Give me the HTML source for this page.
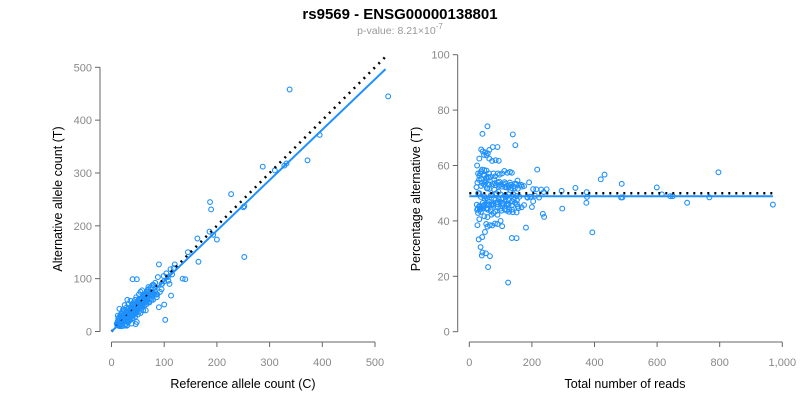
<!DOCTYPE html>
<html><head><meta charset="utf-8"><style>
body{margin:0;background:#fff;width:800px;height:400px;overflow:hidden;font-family:"Liberation Sans",sans-serif}
</style></head><body>
<svg id="chart" width="800" height="400" xmlns="http://www.w3.org/2000/svg" font-family="Liberation Sans, sans-serif">
<text x="400" y="19" text-anchor="middle" font-size="15" font-weight="bold" fill="#000">rs9569 - ENSG00000138801</text>
<text x="400" y="34" text-anchor="middle" font-size="10.5" fill="#999">p-value: 8.21×10<tspan dy="-5" font-size="8">-7</tspan></text>
<g id="left"></g>
<g id="right"></g>
</svg>
<script>
const refCounts=[525,338,372,395,287,310,328,332,252,250,227,187,189,186,193,200,252,163,145,165,120,135,140,90,112,100,107,113,110,88,40,48,102,100,90,95,80,70,46,29,15,12,
12,15,18,20,22,14,16,25,28,30,24,19,21,26,33,35,38,40,42,45,48,50,52,55,58,60,62,65,68,70,72,75,78,80,82,85,13,17,20,24,28,32,36,30,25,22,27,32,36,40,45,50,55,60,48,30,38,20,25,16,11,13,10,12,14,16,18,19,23,26,29,31,34,37,39,41,44,46,49,51,53,56,59,61,63,66,69,71,74,77,15,18,21,24,27,30,33,36,39,42,45,47,52,55,58,24,27,31,35,43,57,64,33,41,44,52,58,63,67,72,76,86,92,20,23,15,17,28,34,21,17,19,
14,18,22,26,30,34,38,42,46,50,54,58,62,66,70,74,78,82,16,20,24,28,32,36,40,44,48,52,56,60,64,68,12,14,17,19,23,27,31,35,39,43,47,51,55,59,63,67,71,75,79,83,87,96,104,108,115,118,95,99,65,57];
const altCounts=[445,458,324,372,312,305,314,318,237,235,260,245,231,189,183,174,141,176,150,132,127,100,99,127,118,95,103,68,90,103,99,99,22,51,46,80,88,84,14,11,43,30,
14,12,20,16,25,18,22,20,30,24,30,13,27,33,26,40,32,45,35,50,42,55,46,60,50,65,55,70,58,75,64,80,68,72,78,70,25,30,35,40,45,52,58,60,50,42,14,18,22,25,28,32,35,40,18,12,15,10,11,10,12,11,15,20,14,16,15,22,19,24,27,33,30,36,41,38,40,47,45,50,49,52,57,58,62,60,66,70,68,74,28,33,38,28,36,38,44,46,52,55,60,65,70,75,78,23,29,28,34,43,55,67,21,30,33,38,45,50,52,55,60,65,75,28,32,20,24,20,24,16,14,18,
17,15,26,22,34,29,44,36,52,41,62,48,70,56,80,62,88,70,12,26,20,35,27,44,34,52,41,61,48,70,55,78,16,11,21,15,20,31,25,40,30,50,36,58,44,66,50,74,56,84,60,92,70,90,110,96,108,120,90,105,40,62];
const leftXTicks=[0,100,200,300,400,500];
const leftYTicks=[0,100,200,300,400,500];
const rightXTicks=[0,200,400,600,800,1000];
const rightXLabels=["0","200","400","600","800","1,000"];
const rightYTicks=[0,20,40,60,80,100];
const fitSlope=0.955;
const meanPct=48.9;
const fitMax=520;
const rightFitMax=970;

const NS="http://www.w3.org/2000/svg";
function mk(parent,tag,attrs){const e=document.createElementNS(NS,tag);for(const k in attrs)e.setAttribute(k,attrs[k]);parent.appendChild(e);return e;}
const AX="#666",TL="#888",BLUE="#1e90ff";

const lx=v=>111.5+v*(375-111.5)/500;
const ly=v=>331.5-v*(331.5-67.3)/500;
const rx=v=>469.3+v*(782.3-469.3)/1000;
const ry=v=>331.7-v*(331.7-54.7)/100;

const L=document.getElementById('left'),R=document.getElementById('right');

function axes(g,xs,ys,xT,xL,yT,xt,yt,yAxisX,xTitleX,yTitleX){
  let a=mk(g,'line',{x1:yAxisX,x2:yAxisX,y1:ys(yT[0]),y2:ys(yT[yT.length-1]),stroke:AX,'stroke-width':1});
  
  
  yT.forEach(v=>{
    const t=mk(g,'line',{x1:yAxisX-5,x2:yAxisX,y1:ys(v),y2:ys(v),stroke:AX});
    
    
    const l=mk(g,'text',{x:yAxisX-8,y:ys(v)+4,'text-anchor':'end','font-size':11,fill:TL});l.textContent=v;
    
    
  });
  a=mk(g,'line',{x1:xs(xT[0]),x2:xs(xT[xT.length-1]),y1:342,y2:342,stroke:AX});
  
  
  xT.forEach((v,i)=>{
    const t=mk(g,'line',{x1:xs(v),x2:xs(v),y1:342,y2:347,stroke:AX});
    
    
    const l=mk(g,'text',{x:xs(v),y:366,'text-anchor':'middle','font-size':11,fill:TL});l.textContent=xL[i];
    
    
  });
  let t=mk(g,'text',{x:xTitleX,y:388,'text-anchor':'middle','font-size':12.5,fill:'#000'});t.textContent=xt;
  
  
  t=mk(g,'text',{x:yTitleX,y:199,'text-anchor':'middle','font-size':12.5,fill:'#000',transform:`rotate(-90 ${yTitleX} 199)`});t.textContent=yt;
  
  
}
axes(L,lx,ly,leftXTicks,leftXTicks.map(String),leftYTicks,'Reference allele count (C)','Alternative allele count (T)',100,243,62);
axes(R,rx,ry,rightXTicks,rightXLabels,rightYTicks,'Total number of reads','Percentage alternative (T)',457.7,625,420);

refCounts.forEach((r,i)=>{
  const a=altCounts[i];
  let c=mk(L,'circle',{cx:lx(r),cy:ly(a),r:2.4,fill:'none',stroke:BLUE,'stroke-width':1.1});
  
  
  const tot=r+a,p=a/tot*100;
  c=mk(R,'circle',{cx:rx(tot),cy:ry(p),r:2.4,fill:'none',stroke:BLUE,'stroke-width':1.1});
  
  
});
let ln=mk(L,'line',{x1:lx(0),y1:ly(0),x2:lx(fitMax),y2:ly(fitMax),stroke:'#000','stroke-width':2.5,'stroke-dasharray':'2 5'});


ln=mk(L,'line',{x1:lx(0),y1:ly(0),x2:lx(fitMax),y2:ly(fitMax*fitSlope),stroke:BLUE,'stroke-width':2});


ln=mk(R,'line',{x1:rx(0),y1:ry(50),x2:rx(rightFitMax),y2:ry(50),stroke:'#000','stroke-width':2.5,'stroke-dasharray':'2 5'});


ln=mk(R,'line',{x1:rx(0),y1:ry(meanPct),x2:rx(rightFitMax),y2:ry(meanPct),stroke:BLUE,'stroke-width':2});


</script>
</body></html>
